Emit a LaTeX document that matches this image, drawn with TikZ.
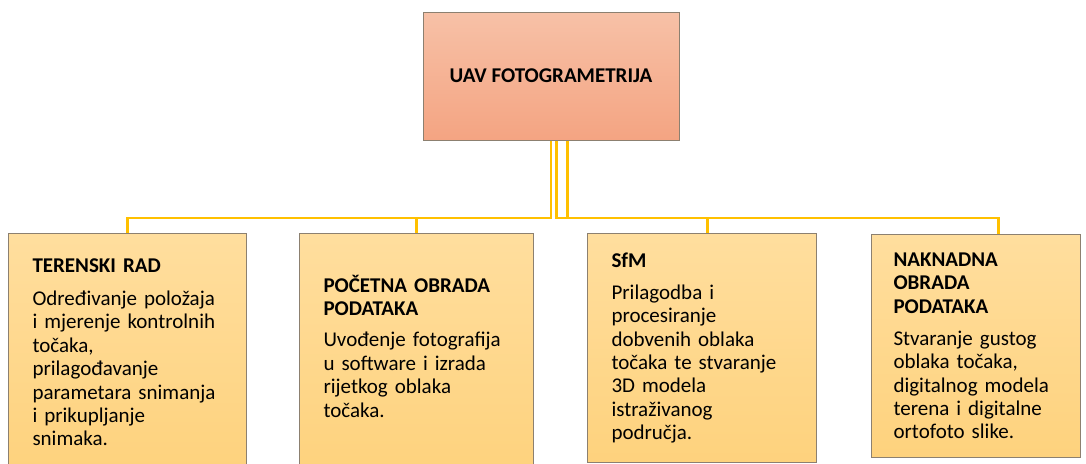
\documentclass[tikz,border=0pt]{standalone}
\usepackage{fontspec}
\setmainfont{Carlito}
\definecolor{rootTop}{RGB}{247,193,167}
\definecolor{rootBot}{RGB}{244,164,130}
\definecolor{boxTop}{RGB}{255,222,158}
\definecolor{boxBot}{RGB}{254,210,125}
\definecolor{boxLine}{RGB}{140,128,112}
\definecolor{linkCol}{RGB}{255,192,0}
\begin{document}
\begin{tikzpicture}[x=1pt,y=-1pt,
	font=\fontsize{21}{23.4}\selectfont,
	rootbox/.style={rectangle, draw=boxLine, line width=1pt, top color=rootTop, bottom color=rootBot,
		minimum width=256pt, minimum height=128pt, font=\fontsize{21}{23.4}\selectfont\bfseries},
	stage/.style={rectangle, draw=boxLine, line width=1pt, top color=boxTop, bottom color=boxBot,
		anchor=north west, align=left, inner xsep=24pt, inner ysep=0pt},
	link/.style={draw=linkCol, line width=2.6pt}]
	\useasboundingbox (0,0) rectangle (1086,463);
	\clip (0,0) rectangle (1086,463);
	\node (top) at (551, 76)	[rootbox]	{UAV FOTOGRAMETRIJA};
	\node (b1) at (8, 233)	[stage, minimum width=238pt, minimum height=238pt, text width=190pt]
		{\textbf{TERENSKI RAD}\\[9.5pt]Određivanje položaja\\i mjerenje kontrolnih\\točaka,\\prilagođavanje\\parametara snimanja\\i prikupljanje\\snimaka.};
	\node (b2) at (299, 233)	[stage, minimum width=234pt, minimum height=240pt, text width=186pt, text depth=140pt]
		{\textbf{POČETNA OBRADA}\\\textbf{PODATAKA}\\[8pt]Uvođenje fotografija\\u software i izrada\\rijetkog oblaka\\točaka.};
	\node (b3) at (587, 233)	[stage, minimum width=229pt, minimum height=229pt, text width=181pt]
		{\textbf{SfM}\\[8.5pt]Prilagodba i\\procesiranje\\dobvenih oblaka\\točaka te stvaranje\\3D modela\\istraživanog\\područja.};
	\node (b4) at (871, 234)	[stage, minimum width=209pt, minimum height=223pt, text width=165pt, inner xsep=22pt]
		{\textbf{NAKNADNA}\\\textbf{OBRADA}\\\textbf{PODATAKA}\\[8.5pt]Stvaranje gustog\\oblaka točaka,\\digitalnog modela\\terena i digitalne\\ortofoto slike.};
	\coordinate (hub) at (551, 218);
	\draw[link] (top.south) -- (hub) -| (b1.north);
	\draw[link] (top.south) -- (hub) -| (b2.north);
	\draw[link] ([xshift=5.7pt]top.south) |- (hub -| b3.north) -| ([xshift=5.5pt]b3.north);
	\draw[link] ([xshift=16.3pt]top.south) |- (hub -| b4.north) -| ([xshift=22.5pt]b4.north);
\end{tikzpicture}
\end{document}
